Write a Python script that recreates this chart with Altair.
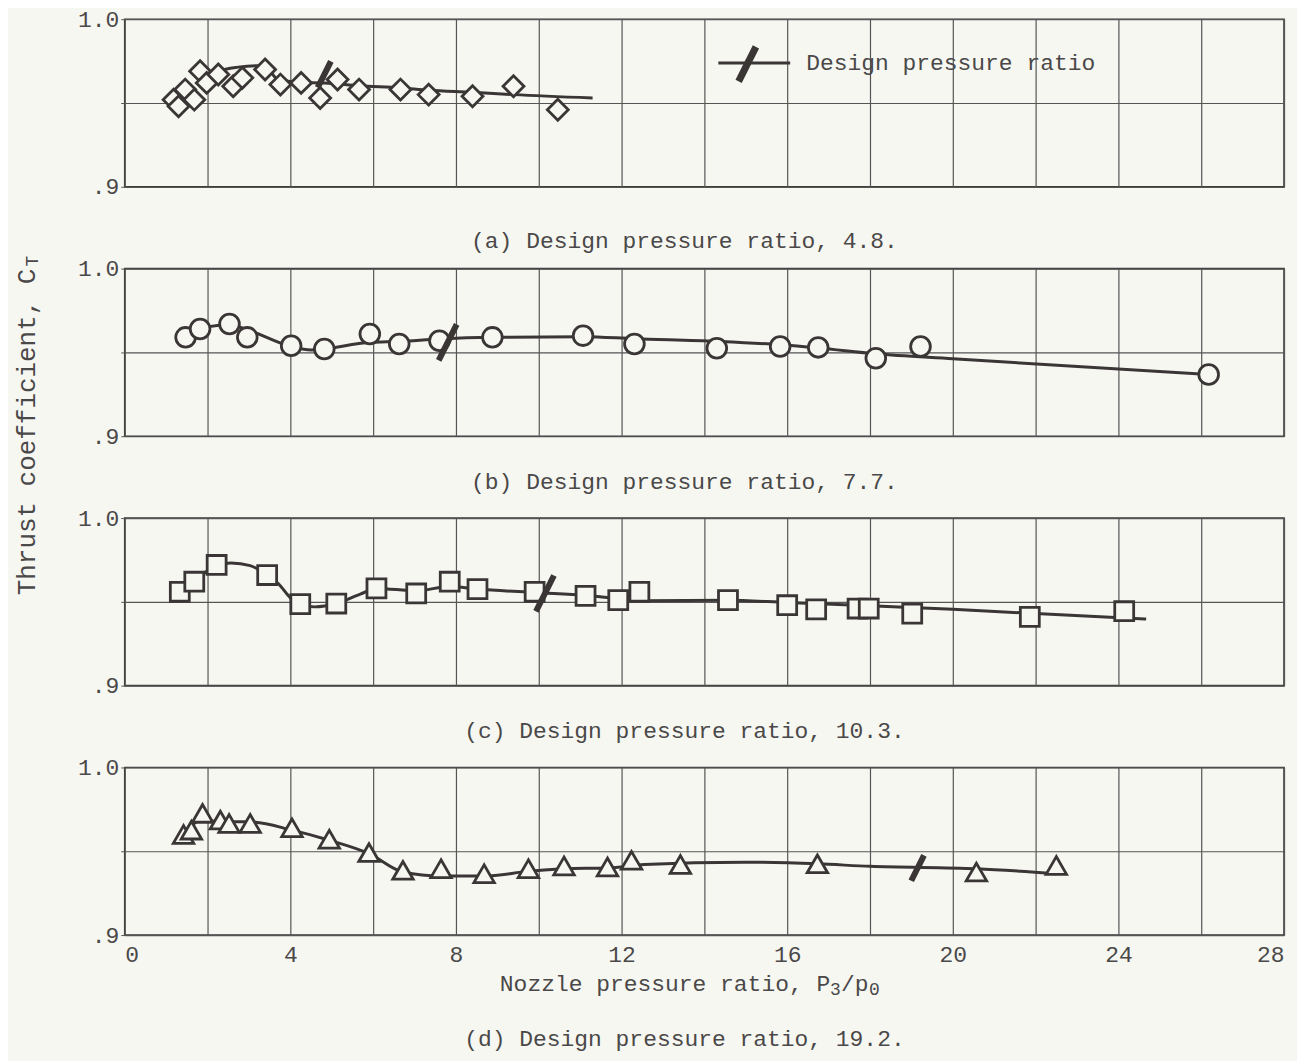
import altair as alt
import pandas as pd

FONT = "Liberation Mono"
INK = "#3a3636"
TXT = "#4a4848"
BG = "#f7f7f2"
GRID = "#555555"

W, H = 1162, 168

# ---------------- data ----------------
# (a) design pressure ratio 4.8 - diamonds
a_x = [1.18, 1.30, 1.46, 1.68, 1.82, 1.98, 2.26, 2.62, 2.84, 3.39, 3.76, 4.26, 4.72, 5.14, 5.66, 6.66, 7.34, 8.40, 9.39, 10.46]
a_y = [0.952, 0.948, 0.958, 0.952, 0.969, 0.962, 0.967, 0.960, 0.965, 0.970, 0.961, 0.962, 0.953, 0.964, 0.958, 0.958, 0.955, 0.954, 0.960, 0.946]
a_fx = [1.90, 2.26, 2.74, 3.22, 3.42, 3.70, 4.26, 4.82, 5.66, 6.66, 7.34, 8.40, 9.39, 11.30]
a_fy = [0.9630, 0.9688, 0.9714, 0.9722, 0.9714, 0.9640, 0.9623, 0.9620, 0.9603, 0.9590, 0.9576, 0.9564, 0.9550, 0.9530]

# (b) design pressure ratio 7.7 - circles
b_x = [1.47, 1.82, 2.53, 2.96, 4.02, 4.82, 5.92, 6.63, 7.60, 8.88, 11.07, 12.31, 14.30, 15.83, 16.75, 18.14, 19.22, 26.18]
b_y = [0.959, 0.964, 0.967, 0.959, 0.954, 0.952, 0.961, 0.955, 0.957, 0.959, 0.960, 0.955, 0.9525, 0.9535, 0.953, 0.9465, 0.9535, 0.9368]
b_fx = [1.82, 2.53, 2.96, 4.02, 4.50, 5.92, 6.63, 7.60, 8.88, 11.07, 12.31, 14.30, 15.83, 16.75, 18.14, 20.00, 26.18]
b_fy = [0.9645, 0.9665, 0.9635, 0.9535, 0.9515, 0.9560, 0.9566, 0.9580, 0.9590, 0.9594, 0.9582, 0.9566, 0.9546, 0.9527, 0.9492, 0.9462, 0.9368]

# (c) design pressure ratio 10.3 - squares
c_x = [1.33, 1.68, 2.22, 3.44, 4.24, 5.11, 6.08, 7.04, 7.85, 8.52, 9.90, 11.13, 11.92, 12.43, 14.57, 16.00, 16.70, 17.70, 17.97, 19.02, 21.86, 24.14]
c_y = [0.956, 0.962, 0.972, 0.966, 0.9486, 0.949, 0.958, 0.955, 0.962, 0.9576, 0.956, 0.9536, 0.951, 0.956, 0.951, 0.948, 0.9455, 0.946, 0.946, 0.943, 0.941, 0.9444]
c_fx = [1.33, 1.68, 2.22, 2.57, 3.03, 3.44, 3.72, 4.04, 4.59, 5.11, 5.69, 6.08, 7.04, 7.85, 8.52, 9.90, 11.13, 12.58, 14.56, 16.00, 18.00, 20.00, 22.00, 24.67]
c_fy = [0.956, 0.962, 0.972, 0.9732, 0.9716, 0.966, 0.9606, 0.9516, 0.947, 0.949, 0.9546, 0.958, 0.9566, 0.9592, 0.9576, 0.9556, 0.954, 0.9506, 0.951, 0.9496, 0.9476, 0.9456, 0.943, 0.9397]

# (d) design pressure ratio 19.2 - triangles
d_x = [1.42, 1.61, 1.88, 2.31, 2.52, 3.03, 4.04, 4.94, 5.90, 6.72, 7.64, 8.68, 9.75, 10.61, 11.66, 12.24, 13.42, 16.73, 20.57, 22.50]
d_y = [0.960, 0.9626, 0.9726, 0.9686, 0.9666, 0.9666, 0.964, 0.9572, 0.9492, 0.9386, 0.9396, 0.9366, 0.9396, 0.9412, 0.9406, 0.9446, 0.9421, 0.9425, 0.9376, 0.9415]
d_fx = [1.42, 1.88, 2.31, 3.03, 4.04, 4.94, 5.90, 6.72, 7.64, 8.68, 9.75, 10.61, 11.66, 12.55, 14.97, 16.73, 18.00, 20.57, 22.50]
d_fy = [0.9606, 0.9686, 0.9676, 0.9676, 0.9626, 0.9566, 0.9486, 0.9376, 0.9352, 0.9352, 0.9380, 0.9396, 0.9400, 0.9421, 0.9435, 0.9425, 0.9410, 0.9396, 0.9366]

# design pressure ratio marks (position on the faired curve)
design_x = [4.82, 7.80, 10.15, 19.15]
design_y = [0.967, 0.956, 0.955, 0.940]

titles = ["(a) Design pressure ratio, 4.8.",
          "(b) Design pressure ratio, 7.7.",
          "(c) Design pressure ratio, 10.3.",
          "(d) Design pressure ratio, 19.2."]

x_ticks = list(range(0, 29, 2))
y_ticks = [0.9, 0.95, 1.0]

TICK_SHAPE = "M-0.5,1L0.5,-1"
one = pd.DataFrame({"k": [0]})


def txt(text, x, y, size=23, align="center", angle=0, baseline="middle"):
    kw = dict(text=text, font=FONT, fontSize=size, color=TXT, align=align, baseline=baseline)
    if angle:
        kw["angle"] = angle
    return alt.Chart(one).mark_text(**kw).encode(x=alt.value(x), y=alt.value(y))


def panel(px, py, fx, fy, shape, msize, dx, dy, dsize, title, title_y, show_x=False, extras=()):
    xs = alt.Scale(domain=[0, 28], nice=False, zero=False)
    ys = alt.Scale(domain=[0.9, 1.0], nice=False, zero=False)
    xaxis = alt.Axis(values=x_ticks, grid=True, ticks=False, domain=False, title=None,
                     labels=show_x, labelExpr="datum.value % 4 == 0 ? datum.label : ''",
                     labelPadding=8, format="d")
    yaxis = alt.Axis(values=y_ticks, grid=True, ticks=True, tickSize=4, domain=False, title=None,
                     labelExpr="datum.value > 0.99 ? '1.0' : (datum.value < 0.91 ? '.9' : '')",
                     labelPadding=2)
    fair = alt.Chart(pd.DataFrame({"x": fx, "y": fy})).mark_line(
        color=INK, strokeWidth=3, interpolate="monotone"
    ).encode(x=alt.X("x:Q", scale=xs, axis=xaxis), y=alt.Y("y:Q", scale=ys, axis=yaxis))
    pts = alt.Chart(pd.DataFrame({"x": px, "y": py})).mark_point(
        shape=shape, size=msize, filled=True, fill=BG, stroke=INK, strokeWidth=2.8, opacity=1
    ).encode(x=alt.X("x:Q", scale=xs), y=alt.Y("y:Q", scale=ys))
    des = alt.Chart(pd.DataFrame({"x": [dx], "y": [dy]})).mark_point(
        shape=TICK_SHAPE, size=dsize, filled=False, stroke=INK, strokeWidth=6, opacity=1
    ).encode(x=alt.X("x:Q", scale=xs), y=alt.Y("y:Q", scale=ys))
    layers = [fair, pts, des, txt(title, 561, title_y)] + list(extras)
    return alt.layer(*layers).properties(width=W, height=H)


# legend (inside panel a)
legend = [
    alt.Chart(one).mark_rule(color=INK, strokeWidth=3).encode(
        x=alt.value(595), x2=alt.value(667), y=alt.value(44)),
    alt.Chart(one).mark_point(shape=TICK_SHAPE, size=1200, filled=False, stroke=INK,
                              strokeWidth=7, opacity=1).encode(x=alt.value(624), y=alt.value(45)),
    txt("Design pressure ratio", 683, 44, align="left"),
]

# y-axis title (placed in panel b)
ytitle = [
    txt("Thrust coefficient, C", -98, 0, size=26, align="right", angle=270),
    txt("T", -92, -2, size=18, align="left", angle=270),
]

# x-axis title (panel d)
xtitle = [
    txt("Nozzle pressure ratio, P", 376, 217, align="left"),
    txt("3", 707, 223, size=18, align="left"),
    txt("/p", 718, 217, align="left"),
    txt("0", 746, 223, size=18, align="left"),
]

pa = panel(a_x, a_y, a_fx, a_fy, "diamond", 440, design_x[0], design_y[0], 700, titles[0], 222, extras=legend)
pb = panel(b_x, b_y, b_fx, b_fy, "circle", 390, design_x[1], design_y[1], 1300, titles[1], 214, extras=ytitle)
pc = panel(c_x, c_y, c_fx, c_fy, "square", 360, design_x[2], design_y[2], 1300, titles[2], 213)
pd_ = panel(d_x, d_y, d_fx, d_fy, "triangle-up", 420, design_x[3], design_y[3], 650, titles[3], 272,
            show_x=True, extras=xtitle)

chart = alt.vconcat(pa, pb, pc, pd_, spacing=82, bounds="flush").properties(
    padding={"left": 5, "top": -2, "right": 12, "bottom": 8},
    background=BG,
).configure_view(stroke=INK, strokeWidth=1.6).configure_axis(
    gridColor=GRID, gridWidth=1.2, gridOpacity=1, tickColor=GRID,
    labelFont=FONT, labelFontSize=23, labelColor=TXT,
)

chart.save("out.html", embed_options={"renderer": "svg", "actions": False})
